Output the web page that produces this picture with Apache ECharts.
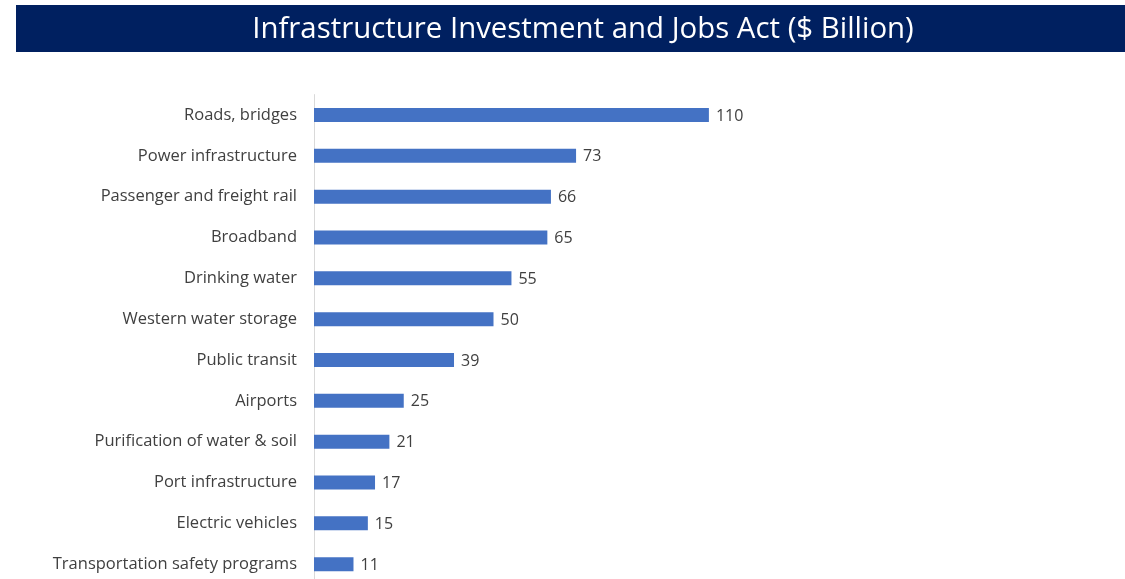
<!DOCTYPE html>
<html><head><meta charset="utf-8">
<script src="https://cdn.jsdelivr.net/npm/echarts@6/dist/echarts.min.js"></script>
<style>html,body{margin:0;padding:0;background:#fff;overflow:hidden}#c{width:1125px;height:600px}</style>
</head><body><div id="c"></div>
<script>
const categories = ["Roads, bridges","Power infrastructure","Passenger and freight rail","Broadband","Drinking water","Western water storage","Public transit","Airports","Purification of water & soil","Port infrastructure","Electric vehicles","Transportation safety programs"];
const values = [110,73,66,65,55,50,39,25,21,17,15,11];
const titleText = "Infrastructure Investment and Jobs Act ($ Billion)";

const chart = echarts.init(document.getElementById('c'));
chart.setOption({
  animation: false,
  graphic: [{
    type: 'rect', left: 16, top: 5, z: 0,
    shape: { width: 1109, height: 47 },
    style: { fill: '#002060' }
  }],
  title: {
    text: titleText, left: 578, top: 10, textAlign: 'center',
    textStyle: { color: '#fff', fontSize: 29.4, fontWeight: 'normal', fontFamily: 'Open Sans' }
  },
  grid: { left: 314, top: 94.6, width: 718, height: 490, containLabel: false },
  xAxis: { type: 'value', min: 0, max: 200, show: false },
  yAxis: {
    type: 'category', data: categories, inverse: true,
    axisLine: { show: true, lineStyle: { color: '#D9D9D9', width: 1 } },
    axisTick: { show: false },
    axisLabel: { margin: 17, color: '#404040', fontSize: 16.5, fontFamily: 'Open Sans' }
  },
  series: [{
    type: 'bar', data: values, barWidth: 14,
    itemStyle: { color: '#4472C4' },
    label: { show: true, position: 'right', distance: 7, offset: [0, 1], color: '#404040', fontSize: 16, fontFamily: 'Open Sans' }
  }]
});
</script></body></html>
